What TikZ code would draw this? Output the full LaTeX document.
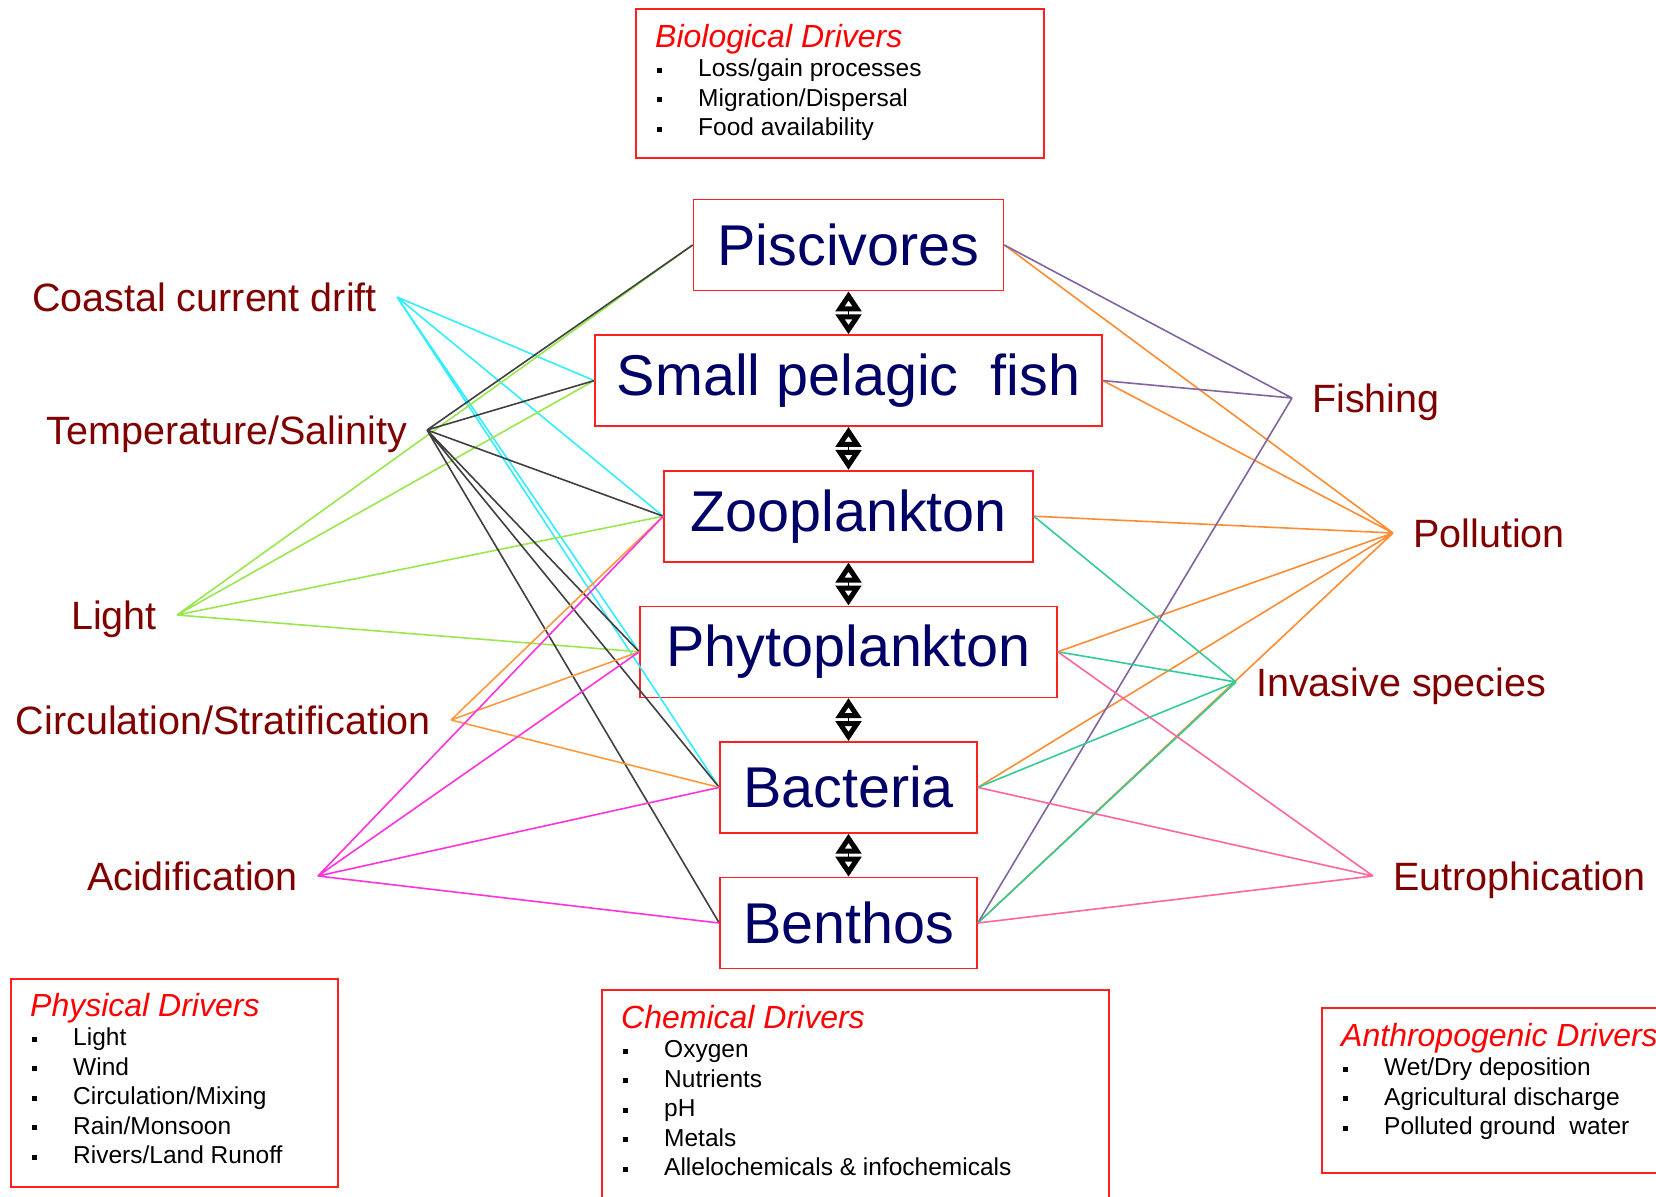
\documentclass[tikz,border=0pt]{standalone}
\usepackage{fontspec}
\setmainfont{Liberation Sans}
\usetikzlibrary{arrows.meta,positioning}
\definecolor{taxonink}  {HTML}{000066}
\definecolor{driverink} {HTML}{800000}
\definecolor{boxline}   {HTML}{FF2020}
\definecolor{titlered}  {HTML}{FF0000}
\definecolor{coastcyan} {HTML}{33EEFF}
\definecolor{tempgray}  {HTML}{404040}
\definecolor{lightgreen}{HTML}{99E64D}
\definecolor{circorange}{HTML}{FF9940}
\definecolor{acidpink}  {HTML}{FF33DD}
\definecolor{fishpurple}{HTML}{8064A2}
\definecolor{pollorange}{HTML}{FF8C33}
\definecolor{invteal}   {HTML}{33CC99}
\definecolor{eutrpink}  {HTML}{FF6699}
\newcommand{\listbullet}{\makebox[43pt][l]{\hspace{2pt}\rule[4pt]{5pt}{5pt}}}
\newcommand{\listtitle}[1]{\textcolor{titlered}{\fontsize{32}{29.5}\selectfont\itshape #1}}
\tikzset{
  taxon/.style={
    rectangle, draw=boxline, line width=1.6pt, text=taxonink,
    font=\fontsize{57.5}{60}\selectfont, minimum height=91pt, inner sep=0pt
  },
  driver/.style={
    text=driverink, font=\fontsize{39.5}{42}\selectfont,
    text height=36pt, text depth=8pt, inner xsep=20pt, inner ysep=0pt
  },
  driverbox/.style={rectangle, draw=boxline, line width=1.6pt, inner sep=0pt},
  drivertext/.style={align=left, inner sep=0pt, font=\fontsize{24.5}{29.5}\selectfont},
  trophic/.style={
    {Triangle[open, length=20pt, width=25pt, line width=5pt 0]}-{Triangle[open, length=20pt, width=25pt, line width=5pt 0]},
    line width=1.3pt, draw=black
  },
  link/.style={line width=1.6pt}
}

\begin{document}
\begin{tikzpicture}[x=1pt, y=-1pt, node distance=43pt]
  \path[use as bounding box, clip] (0,0) rectangle (1656,1196);

  % food web
  \node[taxon, minimum width=310pt] (pisc) at (848.5,245) {Piscivores};
  \node[taxon, minimum width=507pt, below=of pisc] (fish) {Small pelagic\ \ fish};
  \node[taxon, minimum width=369pt, below=of fish] (zoo) {Zooplankton};
  \node[taxon, minimum width=417pt, below=of zoo] (phyto) {Phytoplankton};
  \node[taxon, minimum width=257pt, below=of phyto] (bact) {Bacteria};
  \node[taxon, minimum width=257pt, below=of bact] (benth) {Benthos};

  \draw[trophic] (pisc) -- (fish);
  \draw[trophic] (fish) -- (zoo);
  \draw[trophic] (zoo) -- (phyto);
  \draw[trophic] (phyto) -- (bact);
  \draw[trophic] (bact) -- (benth);

  % drivers
  \node[driver, anchor=east] (coast) at (397,297) {Coastal current drift};
  \node[driver, anchor=east] (temp) at (427,430) {Temperature/Salinity};
  \node[driver, anchor=east] (light) at (177,615) {Light};
  \node[driver, anchor=east] (circ) at (451,720) {Circulation/Stratification};
  \node[driver, anchor=east] (acid) at (318,876) {Acidification};
  \node[driver, anchor=west] (fishing) at (1292,398) {Fishing};
  \node[driver, anchor=west] (poll) at (1393,533) {Pollution};
  \node[driver, anchor=west] (invas) at (1236,682) {Invasive species};
  \node[driver, anchor=west] (eutro) at (1373,876) {Eutrophication};

  \draw[link, coastcyan] (coast.east) -- (fish.west) (coast.east) -- (zoo.west)
    (coast.east) -- (phyto.west) (coast.east) -- (bact.west);
  \draw[link, lightgreen] (light.east) -- (pisc.west) (light.east) -- (fish.west)
    (light.east) -- (zoo.west) (light.east) -- (phyto.west);
  \draw[link, tempgray] (temp.east) -- (pisc.west) (temp.east) -- (fish.west)
    (temp.east) -- (zoo.west) (temp.east) -- (phyto.west)
    (temp.east) -- (bact.west) (temp.east) -- (benth.west);
  \draw[link, circorange] (circ.east) -- (zoo.west) (circ.east) -- (phyto.west)
    (circ.east) -- (bact.west);
  \draw[link, acidpink] (acid.east) -- (zoo.west) (acid.east) -- (phyto.west)
    (acid.east) -- (bact.west) (acid.east) -- (benth.west);

  \draw[link, pollorange] (poll.west) -- (pisc.east) (poll.west) -- (fish.east)
    (poll.west) -- (zoo.east) (poll.west) -- (phyto.east)
    (poll.west) -- (bact.east) (poll.west) -- (benth.east);
  \draw[link, fishpurple] (fishing.west) -- (pisc.east) (fishing.west) -- (fish.east)
    (fishing.west) -- (benth.east);
  \draw[link, invteal] (invas.west) -- (zoo.east) (invas.west) -- (phyto.east)
    (invas.west) -- (bact.east) (invas.west) -- (benth.east);
  \draw[link, eutrpink] (eutro.west) -- (phyto.east) (eutro.west) -- (bact.east)
    (eutro.west) -- (benth.east);

  % driver lists
  \node[driverbox, minimum width=408pt, minimum height=149pt, anchor=north west] (biobox) at (635,8) {};
  \node[drivertext, below right=16pt and 20pt of biobox.north west] (biolist)
    {\listtitle{Biological Drivers}\\
     \listbullet Loss/gain processes\\
     \listbullet Migration/Dispersal\\
     \listbullet Food availability};

  \node[driverbox, minimum width=327pt, minimum height=208pt, anchor=north west] (physbox) at (10,978) {};
  \node[drivertext, below right=15pt and 20pt of physbox.north west] (physlist)
    {\listtitle{Physical Drivers}\\
     \listbullet Light\\
     \listbullet Wind\\
     \listbullet Circulation/Mixing\\
     \listbullet Rain/Monsoon\\
     \listbullet Rivers/Land Runoff};

  \node[driverbox, minimum width=507pt, minimum height=260pt, anchor=north west] (chembox) at (601,989) {};
  \node[drivertext, below right=16pt and 20pt of chembox.north west] (chemlist)
    {\listtitle{Chemical Drivers}\\
     \listbullet Oxygen\\
     \listbullet Nutrients\\
     \listbullet pH\\
     \listbullet Metals\\
     \listbullet Allelochemicals \& infochemicals};

  \node[driverbox, minimum width=400pt, minimum height=165pt, anchor=north west] (anthbox) at (1321,1007) {};
  \node[drivertext, below right=16pt and 20pt of anthbox.north west] (anthlist)
    {\listtitle{Anthropogenic Drivers}\\
     \listbullet Wet/Dry deposition\\
     \listbullet Agricultural discharge\\
     \listbullet Polluted ground\ \ water};
\end{tikzpicture}
\end{document}
